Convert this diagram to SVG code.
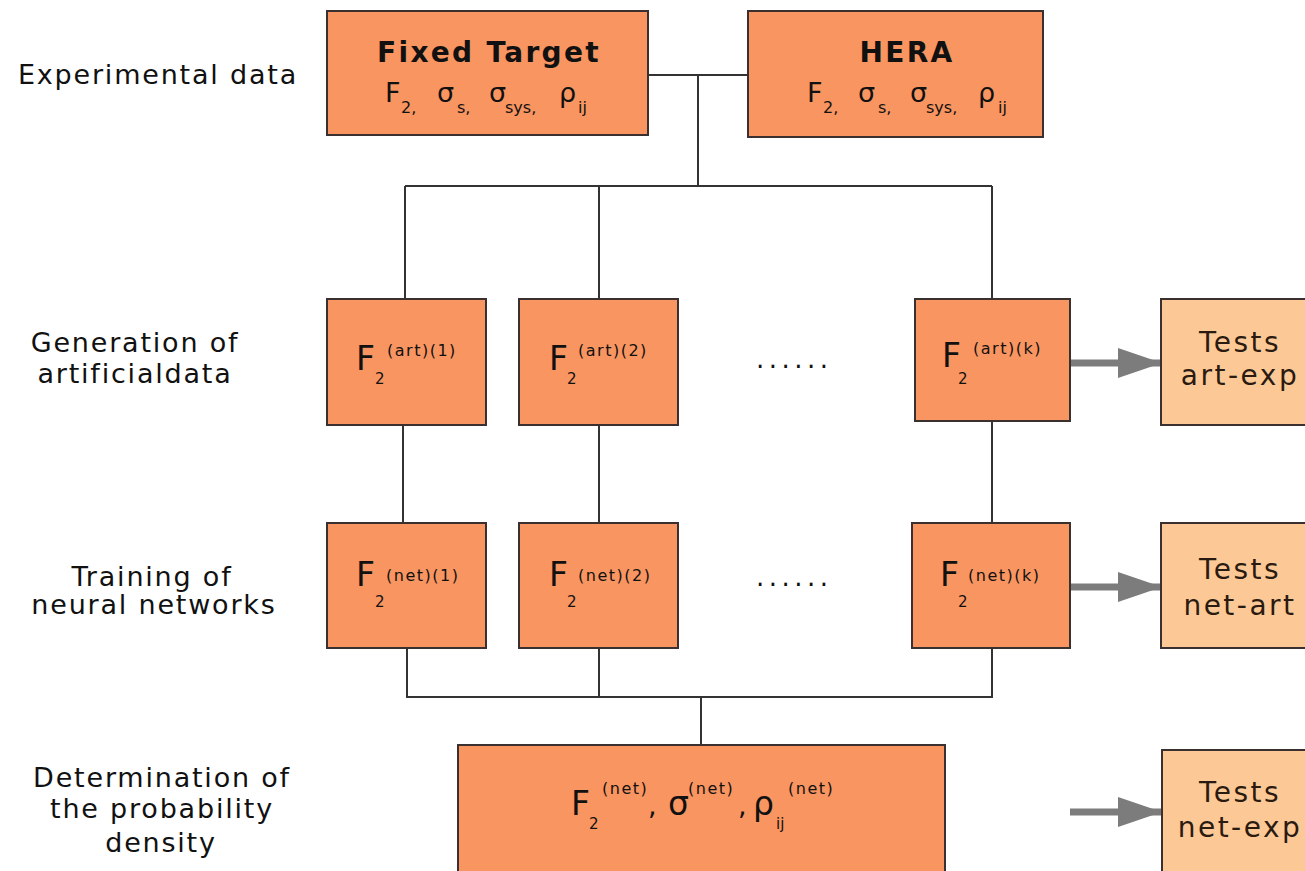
<svg xmlns="http://www.w3.org/2000/svg" width="1305" height="871" viewBox="0 0 1305 871">
<style>
.box{fill:#F99560;stroke:#3a3030;stroke-width:2}
.test{fill:#FCC996;stroke:#3a3030;stroke-width:2}
.ln{fill:none;stroke:#333;stroke-width:2}
.arr{fill:none;stroke:#7c7c7c;stroke-width:7}
text{font-family:"DejaVu Sans",Verdana,sans-serif;fill:#111}
.lbl{font-size:27px;text-anchor:middle;letter-spacing:1.8px}
.row{font-size:27px}
.rs{font-size:16px}
.f{font-size:33px}
.s2{font-size:15px}
.sup{font-size:16px;letter-spacing:1.5px}
.dots{font-size:26px;letter-spacing:4.5px}
.tt{font-size:28px;text-anchor:middle;letter-spacing:2.5px;fill:#2a1a10}
.hd{font-size:28px;font-weight:bold;text-anchor:middle;letter-spacing:2.3px}
</style>
<defs>
<marker id="ah" markerWidth="44" markerHeight="30" refX="43" refY="15" orient="auto" markerUnits="userSpaceOnUse">
<path d="M0,0 L44,15 L0,30 Z" fill="#7c7c7c"/>
</marker>
</defs>
<g id="labels">
<text class="lbl" x="158" y="84">Experimental data</text>
<text class="lbl" x="135" y="352">Generation of</text>
<text class="lbl" x="135" y="383">artificialdata</text>
<text class="lbl" x="152" y="586">Training of</text>
<text class="lbl" x="154" y="614">neural networks</text>
<text class="lbl" x="162" y="787">Determination of</text>
<text class="lbl" x="162" y="818">the probability</text>
<text class="lbl" x="161" y="852">density</text>
</g>
<g id="connectors">
<path class="ln" d="M648,75 H748 M698,75 V186 M405,186 H992 M405,186 V299 M599,186 V299 M992,186 V299"/>
<path class="ln" d="M403,425 V523 M599,425 V523 M992,421 V523"/>
<path class="ln" d="M407,648 V697 H992 V648 M599,648 V697 M701,697 V745"/>
<line class="arr" x1="1070" y1="363" x2="1161" y2="363" marker-end="url(#ah)"/>
<line class="arr" x1="1070" y1="587" x2="1161" y2="587" marker-end="url(#ah)"/>
<line class="arr" x1="1070" y1="812" x2="1161" y2="812" marker-end="url(#ah)"/>
</g>
<g id="fixed-target">
<rect class="box" x="327" y="11" width="321" height="124"/>
<text class="hd" x="489" y="62">Fixed Target</text>
<text class="row" x="385" y="102">F</text><text class="rs" x="401" y="113">2,</text>
<text class="row" x="437" y="102">σ</text><text class="rs" x="457" y="113">s,</text>
<text class="row" x="489" y="102">σ</text><text class="rs" x="505" y="113">sys,</text>
<text class="row" x="559" y="102">ρ</text><text class="rs" x="578" y="113">ij</text>
</g>
<g id="hera">
<rect class="box" x="748" y="11" width="295" height="126"/>
<text class="hd" x="907" y="62">HERA</text>
<text class="row" x="807" y="102">F</text><text class="rs" x="823" y="113">2,</text>
<text class="row" x="858" y="102">σ</text><text class="rs" x="878" y="113">s,</text>
<text class="row" x="910" y="102">σ</text><text class="rs" x="926" y="113">sys,</text>
<text class="row" x="978" y="102">ρ</text><text class="rs" x="998" y="113">ij</text>
</g>
<g id="art1">
<rect class="box" x="327" y="299" width="159" height="126"/>
<text class="f" x="356" y="370">F</text><text class="s2" x="375" y="384">2</text><text class="sup" x="387" y="356">(art)(1)</text>
</g>
<g id="art2">
<rect class="box" x="519" y="299" width="159" height="126"/>
<text class="f" x="549" y="370">F</text><text class="s2" x="567" y="384">2</text><text class="sup" x="578" y="356">(art)(2)</text>
</g>
<g id="art-dots"><text class="dots" x="756" y="368">......</text></g>
<g id="artk">
<rect class="box" x="915" y="299" width="155" height="122"/>
<text class="f" x="942" y="367">F</text><text class="s2" x="958" y="384">2</text><text class="sup" x="973" y="354">(art)(k)</text>
</g>
<g id="tests-art-exp">
<rect class="test" x="1161" y="299" width="150" height="126"/>
<text class="tt" x="1240" y="352">Tests</text>
<text class="tt" x="1240" y="385">art-exp</text>
</g>
<g id="net1">
<rect class="box" x="327" y="523" width="159" height="125"/>
<text class="f" x="356" y="586">F</text><text class="s2" x="375" y="607">2</text><text class="sup" x="386" y="581">(net)(1)</text>
</g>
<g id="net2">
<rect class="box" x="519" y="523" width="159" height="125"/>
<text class="f" x="549" y="586">F</text><text class="s2" x="567" y="607">2</text><text class="sup" x="578" y="581">(net)(2)</text>
</g>
<g id="net-dots"><text class="dots" x="756" y="586">......</text></g>
<g id="netk">
<rect class="box" x="912" y="523" width="158" height="125"/>
<text class="f" x="940" y="586">F</text><text class="s2" x="958" y="607">2</text><text class="sup" x="968" y="581">(net)(k)</text>
</g>
<g id="tests-net-art">
<rect class="test" x="1161" y="523" width="150" height="125"/>
<text class="tt" x="1240" y="579">Tests</text>
<text class="tt" x="1240" y="615">net-art</text>
</g>
<g id="density">
<rect class="box" x="458" y="745" width="487" height="130"/>
<text class="f" x="571" y="815">F</text><text class="s2" x="589" y="829">2</text><text class="sup" x="602" y="794">(net)</text>
<text class="row" x="648" y="815">,</text>
<text class="f" x="668" y="815">σ</text><text class="sup" x="688" y="794">(net)</text>
<text class="row" x="738" y="815">,</text>
<text class="f" x="753" y="815">ρ</text><text class="s2" x="776" y="829">ij</text><text class="sup" x="788" y="794">(net)</text>
</g>
<g id="tests-net-exp">
<rect class="test" x="1162" y="750" width="150" height="130"/>
<text class="tt" x="1240" y="802">Tests</text>
<text class="tt" x="1240" y="837">net-exp</text>
</g>
</svg>
